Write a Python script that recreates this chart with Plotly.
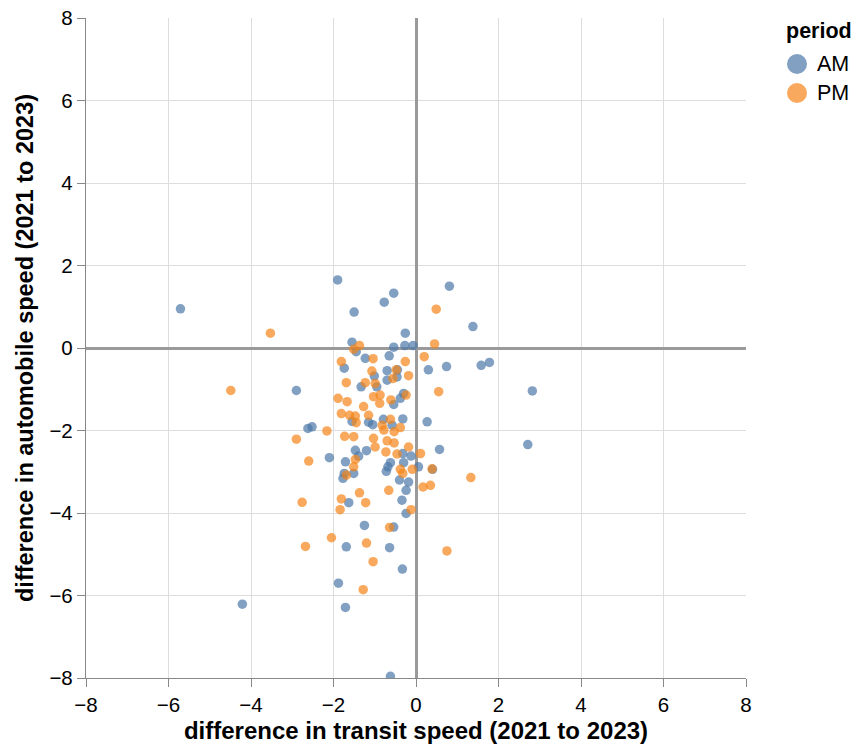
import plotly.graph_objects as go

am_transit = [-5.71, -1.90, 0.81, -0.54, -0.77, -1.50, 1.38, -0.26, -1.55, -0.54,
              -0.27, -0.07, -1.45, -1.23, -0.65, -1.74, -0.70, -0.45, 0.30, 0.74,
              1.58, 1.78, -1.01, -0.70, -0.46, -1.33, -0.95, -2.90, 2.82, -0.30,
              -0.38, -0.54, -0.32, 0.27, -1.55, -1.15, -1.05, -0.79, -0.58, -2.62,
              -2.52, 2.71, 0.57, -2.10, -1.47, -1.20, -1.39, -1.71, -0.32, -0.12,
              -0.62, -0.68, -0.72, -0.30, 0.06, 0.40, -1.74, -1.51, -1.77, -0.40,
              -0.18, -0.24, -0.34, -1.63, -0.24, -1.25, -0.54, -1.69, -0.64, -0.33,
              -1.88, -4.21, -1.71, -0.62]
am_auto = [0.95, 1.65, 1.50, 1.33, 1.11, 0.87, 0.52, 0.36, 0.14, 0.02,
           0.06, 0.06, -0.09, -0.25, -0.19, -0.49, -0.55, -0.53, -0.53, -0.45,
           -0.42, -0.35, -0.68, -0.78, -0.70, -0.94, -0.94, -1.03, -1.04, -1.10,
           -1.22, -1.37, -1.72, -1.79, -1.78, -1.80, -1.86, -1.73, -1.87, -1.95,
           -1.91, -2.34, -2.46, -2.66, -2.48, -2.49, -2.62, -2.76, -2.56, -2.62,
           -2.78, -2.88, -2.99, -2.78, -2.88, -2.94, -3.04, -3.04, -3.16, -3.20,
           -3.25, -3.45, -3.69, -3.75, -4.01, -4.30, -4.34, -4.82, -4.84, -5.36,
           -5.70, -6.21, -6.29, -7.96]

pm_transit = [0.49, -3.53, 0.45, -1.37, -1.51, 0.20, -1.04, -1.81, -0.26, -1.07,
              -0.48, -0.18, -1.69, -1.23, -0.99, -0.56, 0.55, -0.24, -1.89, -1.67,
              -1.03, -0.87, -0.88, -0.61, -1.27, -1.81, -1.61, -1.47, -1.15, -1.45,
              -0.62, -0.82, -0.38, -2.16, -2.90, -0.78, -0.53, -1.73, -1.51, -1.03,
              -0.99, -0.70, -0.53, -0.73, -0.46, -0.18, 0.11, -2.60, -1.47, -1.51,
              -1.69, -0.38, -0.32, -0.09, 0.39, 1.33, 0.17, 0.35, -0.66, -1.37,
              -2.76, -1.81, -1.22, -1.84, -0.12, -0.64, -2.05, -2.68, -1.20, 0.75,
              -1.04, -1.28, -4.49]
pm_auto = [0.94, 0.36, 0.10, 0.06, -0.03, -0.21, -0.26, -0.33, -0.33, -0.56,
           -0.53, -0.67, -0.84, -0.84, -0.86, -0.74, -1.06, -1.14, -1.22, -1.30,
           -1.18, -1.14, -1.34, -1.26, -1.42, -1.59, -1.63, -1.65, -1.63, -1.81,
           -1.73, -1.87, -1.93, -2.01, -2.21, -1.99, -2.03, -2.14, -2.15, -2.19,
           -2.40, -2.25, -2.30, -2.52, -2.57, -2.40, -2.56, -2.74, -2.70, -2.88,
           -3.08, -2.94, -3.04, -2.94, -2.93, -3.14, -3.37, -3.33, -3.45, -3.51,
           -3.74, -3.66, -3.75, -3.92, -3.92, -4.35, -4.60, -4.81, -4.73, -4.92,
           -5.18, -5.86, -1.03]

periods = ["AM", "PM"]
colors = ["#4c78a8", "#f58518"]
ticks = [-8, -6, -4, -2, 0, 2, 4, 6, 8]
FONT = "Liberation Sans, Arial, Helvetica, sans-serif"

W, H = 845, 736
ML, MR, MT, MB = 78, 107, 10, 66
PW, PH = W - ML - MR, H - MT - MB

fig = go.Figure()
for name, xs, ys, c in zip(periods, [am_transit, pm_transit], [am_auto, pm_auto], colors):
    fig.add_trace(go.Scatter(x=xs, y=ys, mode="markers", name=name, showlegend=False,
                             marker=dict(color=c, size=9.5, opacity=0.7, line=dict(width=0))))

axis_common = dict(range=[-8, 8], tickvals=ticks, showgrid=True, gridcolor="#dddddd",
                   gridwidth=1, zeroline=True, zerolinecolor="#9a9a9a", zerolinewidth=3,
                   showline=True, linecolor="#888888", linewidth=1.3, ticks="outside",
                   ticklen=8, tickcolor="#888888", tickwidth=1.3, automargin=False,
                   ticklabeloverflow="allow",
                   tickfont=dict(family=FONT, size=20.5, color="#000"))

fig.update_layout(
    width=W, height=H, autosize=False,
    margin=dict(l=ML, r=MR, t=MT, b=MB, autoexpand=False),
    plot_bgcolor="white", paper_bgcolor="white",
    xaxis=dict(**axis_common,
               title=dict(text="<b>difference in transit speed (2021 to 2023)</b>",
                          font=dict(family=FONT, size=24, color="#000"), standoff=18)),
    yaxis=dict(**axis_common,
               title=dict(text="<b>difference in automobile speed (2021 to 2023)</b>",
                          font=dict(family=FONT, size=23.5, color="#000"), standoff=9)),
)

# legend drawn in pixel-based paper coordinates
def px_x(p):
    return (p - 8 - ML) / PW

def px_y(p):
    return (H - MB - (p - 8)) / PH

fig.add_annotation(text="<b>period</b>", x=px_x(784), y=px_y(31), xref="paper", yref="paper",
                   xanchor="left", yanchor="middle", showarrow=False,
                   font=dict(family=FONT, size=21.5, color="#000"))
for i, (name, c) in enumerate(zip(periods, colors)):
    cy = 64 + i * 29
    r = 10
    fig.add_shape(type="circle", xref="paper", yref="paper",
                  x0=px_x(797 - r), x1=px_x(797 + r), y0=px_y(cy + r), y1=px_y(cy - r),
                  fillcolor=c, opacity=0.7, line=dict(width=0))
    fig.add_annotation(text=name, x=px_x(815), y=px_y(cy), xref="paper", yref="paper",
                       xanchor="left", yanchor="middle", showarrow=False,
                       font=dict(family=FONT, size=21.5, color="#000"))

fig.write_html("out.html")
